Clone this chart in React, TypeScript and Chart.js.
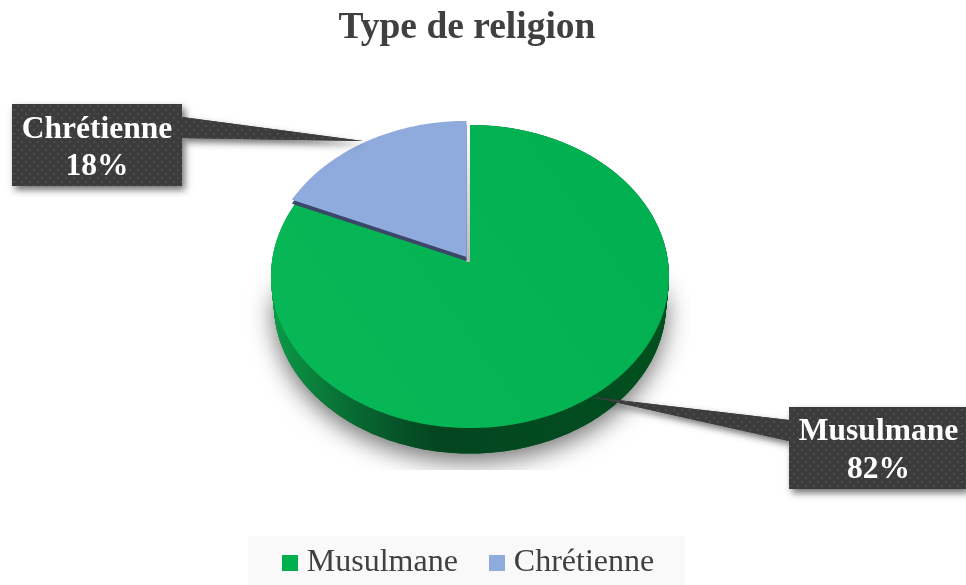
import { useEffect, useRef } from "react";
import { Chart, registerables } from "chart.js";

Chart.register(...registerables);

const categories = ["Musulmane", "Chrétienne"];
const shares = [82, 18];
const sliceColors = ["#00b050", "#8faadc"];
const titleText = "Type de religion";

const SERIF = '"Liberation Serif", "Times New Roman", serif';
const TEXT = "#404040";

// Perspective projection of the unit disc onto the page
const CX = 470, CY = 261, A = 198, B = 150, P = 0.102, DEPTH = 28, WARP = 0.04;

function project(angle: number, dx = 0, dy = 0, shrink = 1): [number, number] {
  const t = angle + WARP * Math.sin(2 * (angle + Math.PI / 2));
  const u = Math.cos(t), v = Math.sin(t);
  const w = 1 - P * v;
  return [CX + dx + (A * shrink * u) / w, CY + dy + (B * shrink * v) / w];
}

function rimPath(ctx: CanvasRenderingContext2D, start: number, end: number, dx = 0, dy = 0, shrink = 1, apex = true) {
  ctx.beginPath();
  const n = Math.max(8, Math.ceil(((end - start) / (Math.PI * 2)) * 360));
  if (apex) ctx.moveTo(CX + dx, CY + dy);
  for (let i = 0; i <= n; i++) {
    const [x, y] = project(start + ((end - start) * i) / n, dx, dy, shrink);
    if (i === 0 && !apex) ctx.moveTo(x, y);
    else ctx.lineTo(x, y);
  }
  ctx.closePath();
}

function makeTexture(ctx: CanvasRenderingContext2D) {
  const c = document.createElement("canvas");
  c.width = 8;
  c.height = 8;
  const g = c.getContext("2d")!;
  g.fillStyle = "#3c3c3c";
  g.fillRect(0, 0, 8, 8);
  g.fillStyle = "#4d4d4d";
  g.fillRect(1, 1, 2, 2);
  g.fillRect(5, 5, 2, 2);
  return ctx.createPattern(c, "repeat")!;
}

type Callout = { box: number[]; wedge: number[]; lines: number[] };
const calloutBoxes: Callout[] = [
  { box: [789, 407, 177, 82], wedge: [789, 420, 592, 397, 789, 441], lines: [432, 470] },
  { box: [12, 104, 170, 82], wedge: [182, 117, 363, 141, 182, 138], lines: [130, 167] },
];

function swatch(color: string) {
  const c = document.createElement("canvas");
  c.width = 16;
  c.height = 16;
  const g = c.getContext("2d")!;
  g.fillStyle = color;
  g.fillRect(0, 0, 16, 16);
  return c;
}

const pie3d = {
  id: "pie3d",
  afterLayout(chart: any) {
    const l = chart.legend;
    const dx = 5;
    const dy = 548 - (l.top + l.bottom) / 2;
    l.left += dx;
    l.right += dx;
    l.top += dy;
    l.bottom += dy;
  },
  beforeDraw(chart: any) {
    const ctx = chart.ctx;
    ctx.save();
    ctx.fillStyle = "#ffffff";
    ctx.fillRect(0, 0, chart.width, chart.height);
    ctx.fillStyle = "#f9f9f9";
    ctx.fillRect(248, 536, 437, 49);
    ctx.restore();
  },
  beforeDatasetDraw(chart: any) {
    const ctx: CanvasRenderingContext2D = chart.ctx;
    const arcs = chart.getDatasetMeta(0).data;
    const main = arcs[0];
    const minor = arcs[1];
    const full0 = -Math.PI / 2, full1 = Math.PI * 1.5;

    // soft shadow under the body, fading out towards the top
    ctx.save();
    ctx.beginPath();
    ctx.rect(240, 262, 450, 208);
    ctx.clip();
    ctx.shadowColor = "rgba(0,0,0,0.55)";
    ctx.shadowBlur = 24;
    ctx.shadowOffsetY = 8;
    ctx.fillStyle = "#0a5a2a";
    rimPath(ctx, full0, full1, 0, DEPTH, 0.985, false);
    ctx.fill();
    const fade = ctx.createLinearGradient(0, 268, 0, 312);
    fade.addColorStop(0, "rgba(255,255,255,1)");
    fade.addColorStop(1, "rgba(255,255,255,0)");
    ctx.shadowColor = "transparent";
    ctx.fillStyle = fade;
    ctx.fillRect(240, 262, 450, 50);
    ctx.restore();

    // outer wall
    const wall = ctx.createLinearGradient(271, 0, 670, 0);
    wall.addColorStop(0, "#0a9c48");
    wall.addColorStop(0.12, "#0a7d3a");
    wall.addColorStop(0.3, "#06572a");
    wall.addColorStop(0.42, "#03451f");
    wall.addColorStop(0.7, "#024a20");
    wall.addColorStop(1, "#01501f");
    ctx.fillStyle = wall;
    for (let t = 0; t <= DEPTH; t++) {
      rimPath(ctx, full0, full1, 0, t, 1 - (0.015 * t) / DEPTH, false);
      ctx.fill();
    }

    // main slice top
    const topFill = ctx.createLinearGradient(300, 400, 650, 150);
    topFill.addColorStop(0, "#08b857");
    topFill.addColorStop(1, "#00b050");
    ctx.fillStyle = topFill;
    rimPath(ctx, main.startAngle, main.endAngle);
    ctx.fill();

    // exposed inner wall of the notch (right side)
    const grey = ctx.createLinearGradient(0, 122, 0, 262);
    grey.addColorStop(0, "#ffffff");
    grey.addColorStop(1, "#b8b8b8");
    ctx.fillStyle = grey;
    ctx.fillRect(466, 120, 4, 142);

    // pulled-out minor slice
    const ox = -3.5, oy = -4;
    ctx.fillStyle = "#3c4668";
    rimPath(ctx, minor.startAngle, minor.endAngle, ox, oy + 4);
    ctx.fill();
    ctx.fillStyle = sliceColors[1];
    rimPath(ctx, minor.startAngle, minor.endAngle, ox, oy);
    ctx.fill();

    return false;
  },
  afterDatasetsDraw(chart: any) {
    const ctx: CanvasRenderingContext2D = chart.ctx;
    const total = shares.reduce((a, b) => a + b, 0);
    const texture = makeTexture(ctx);
    calloutBoxes.forEach((c, i) => {
      const [x, y, w, h] = c.box;
      ctx.save();
      ctx.shadowColor = "rgba(0,0,0,0.55)";
      ctx.shadowBlur = 7;
      ctx.shadowOffsetX = 3;
      ctx.shadowOffsetY = 4;
      ctx.fillStyle = "#3c3c3c";
      ctx.beginPath();
      ctx.moveTo(c.wedge[0], c.wedge[1]);
      ctx.lineTo(c.wedge[2], c.wedge[3]);
      ctx.lineTo(c.wedge[4], c.wedge[5]);
      ctx.closePath();
      ctx.fill();
      ctx.fillRect(x, y, w, h);
      ctx.restore();

      ctx.save();
      ctx.fillStyle = texture;
      ctx.beginPath();
      ctx.moveTo(c.wedge[0], c.wedge[1]);
      ctx.lineTo(c.wedge[2], c.wedge[3]);
      ctx.lineTo(c.wedge[4], c.wedge[5]);
      ctx.closePath();
      ctx.fill();
      ctx.fillRect(x, y, w, h);
      ctx.fillStyle = "#ffffff";
      ctx.font = `bold 31.5px ${SERIF}`;
      ctx.textAlign = "center";
      ctx.textBaseline = "middle";
      const cx = i === 0 ? 878.5 : 97;
      ctx.fillText(categories[i], cx, c.lines[0]);
      ctx.fillText(`${Math.round((shares[i] / total) * 100)}%`, cx, c.lines[1]);
      ctx.restore();
    });
  },
};

export default function App() {
  const ref = useRef<HTMLCanvasElement>(null);
  useEffect(() => {
    if (!ref.current) return;
    const chart = new Chart(ref.current, {
      type: "pie",
      data: {
        labels: categories,
        datasets: [{ data: shares, backgroundColor: sliceColors, borderWidth: 0 }],
      },
      options: {
        animation: false,
        responsive: false,
        layout: { padding: { right: 32 } },
        plugins: {
          tooltip: { enabled: false },
          title: {
            display: true,
            text: titleText,
            color: TEXT,
            font: { family: SERIF, size: 37.5, weight: "bold" },
            padding: { top: 6, bottom: 10 },
          },
          legend: {
            position: "bottom",
            labels: {
              usePointStyle: true,
              boxWidth: 1,
              boxHeight: 16,
              padding: 39,
              color: TEXT,
              font: { family: SERIF, size: 32 },
              generateLabels: (c: any) =>
                categories.map((name, i) => ({
                  text: name,
                  fillStyle: sliceColors[i],
                  strokeStyle: sliceColors[i],
                  lineWidth: 0,
                  fontColor: TEXT,
                  pointStyle: swatch(sliceColors[i]),
                  hidden: !c.getDataVisibility(i),
                  index: i,
                })),
            },
          },
        },
      },
      plugins: [pie3d],
    } as any);
    return () => chart.destroy();
  }, []);
  return (
    <canvas
      ref={ref}
      width={966}
      height={585}
      style={{ position: "fixed", left: 0, top: 0, display: "block" }}
    />
  );
}
